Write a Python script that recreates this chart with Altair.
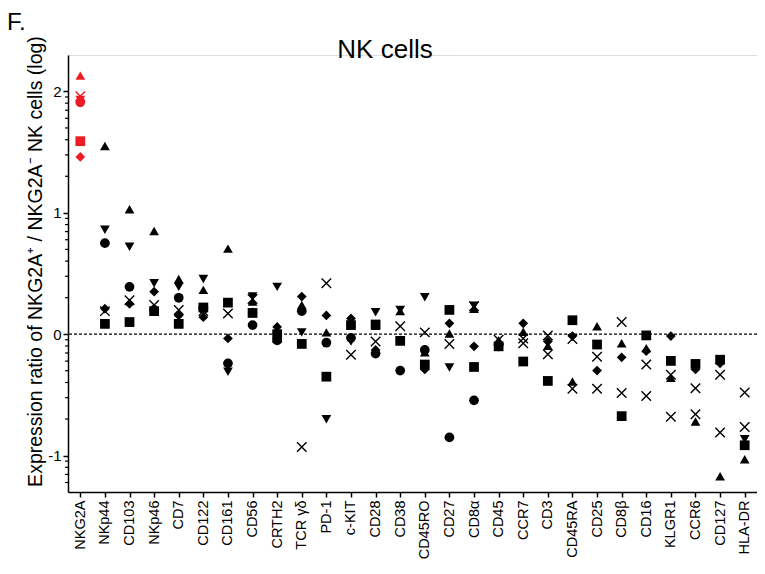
import math
import altair as alt
import pandas as pd

categories = ["NKG2A", "NKp44", "CD103", "NKp46", "CD7", "CD122", "CD161", "CD56",
              "CRTH2", "TCR γδ", "PD-1", "c-KIT", "CD28", "CD38", "CD45RO", "CD27",
              "CD8α", "CD45", "CCR7", "CD3", "CD45RA", "CD25", "CD8β", "CD16",
              "KLGR1", "CCR6", "CD127", "HLA-DR"]

circle = [1.91, 0.75, 0.39, 0.20, 0.30, 0.21, -0.24, 0.075, -0.05, 0.19, -0.07, -0.03,
          -0.16, -0.30, -0.13, -0.85, -0.545, -0.09] + [None] * 10
square = [1.59, 0.085, 0.10, 0.19, 0.085, 0.22, 0.26, 0.175, 0.0, -0.08, -0.35, 0.075,
          0.08, -0.055, -0.25, 0.20, -0.27, -0.10, -0.225, -0.385, 0.115, -0.085, -0.675,
          -0.01, -0.22, -0.245, -0.21, -0.915]
tri_up = [2.13, 1.55, 1.03, 0.85, 0.455, 0.365, 0.705, 0.27, -0.01, 0.24, 0.015, 0.10,
          0.07, 0.19, -0.15, 0.005, 0.21, -0.05, 0.02, -0.095, -0.39, 0.065, -0.075,
          -0.115, -0.36, -0.72, -1.17, -1.03]
tri_down = [1.93, 0.86, 0.72, 0.42, 0.39, 0.455, -0.31, 0.31, 0.39, 0.015, -0.70, -0.06,
            0.18, 0.20, 0.305, -0.275, 0.235, -0.11] + [None] * 9 + [-0.865]
diamond = [1.46, 0.21, 0.25, 0.35, 0.155, 0.14, -0.035, 0.18, 0.06, 0.31, 0.155, 0.13,
           -0.13, -0.05, -0.29, 0.09, -0.10, -0.07, 0.09, -0.06, -0.015, -0.30, -0.19,
           -0.14, -0.015, -0.29, -0.24, None]
cross_a = [1.96, 0.19, 0.28, 0.24, 0.20, 0.19, 0.17, 0.29, -0.03, -0.93, 0.42, -0.17,
           -0.06, 0.065, 0.015, -0.08, 0.23, -0.045, -0.075, -0.165, -0.04, -0.185, 0.10,
           -0.25, -0.335, -0.445, -0.335, -0.48]
cross_b = [None] * 18 + [-0.035, -0.01, -0.45, -0.45, -0.485, -0.51, -0.68, -0.66, -0.81, -0.765]

filled_series = [("circle", circle), ("square", square), ("triangle-up", tri_up),
                 ("triangle-down", tri_down), ("diamond", diamond)]
cross_series = [("cross_a", cross_a), ("cross_b", cross_b)]

def rows(series):
    out = []
    for name, vals in series:
        for c, v in zip(categories, vals):
            if v is not None:
                out.append({"marker": c, "series": name, "value": v})
    return pd.DataFrame(out)

df_filled = rows(filled_series)
df_cross = rows(cross_series)

minor = []
for d in range(-2, 3):
    for k in range(2, 10):
        v = d + math.log10(k)
        if -1.3 <= v <= 2.3:
            minor.append(v)
df_minor = pd.DataFrame({"v": minor})

FONT = "Liberation Sans"
RED = "#ED1C24"
W, H = 689, 437

x_enc = alt.X("marker:N", sort=categories,
              scale=alt.Scale(type="point", padding=0.5),
              axis=alt.Axis(labelAngle=-90, labelFontSize=14.5, labelFont=FONT,
                            labelColor="black", tickSize=5, tickWidth=1.5,
                            tickColor="black", domainColor="black", domainWidth=1.5,
                            labelPadding=3, title=None))
y_scale = alt.Scale(domain=[-1.3, 2.3], nice=False, zero=False)
y_enc = alt.Y("value:Q", scale=y_scale,
              axis=alt.Axis(values=[-1, 0, 1, 2], labelExpr="'' + datum.value",
                            labelFontSize=15, labelFont=FONT, labelColor="black",
                            tickSize=5, tickWidth=1.5, tickColor="black",
                            domainColor="black", domainWidth=1.5, grid=False,
                            labelPadding=2,
                            title="Expression ratio of NKG2A⁺ / NKG2A⁻ NK cells (log)",
                            titleFont=FONT, titleFontSize=19.5, titleFontWeight="normal",
                            titleColor="black", titlePadding=2, titleY=206))

color_cond = alt.condition(alt.datum.marker == "NKG2A", alt.value(RED), alt.value("black"))

pts = alt.Chart(df_filled).mark_point(filled=True, opacity=1, size=95).encode(
    x=x_enc, y=y_enc,
    shape=alt.Shape("series:N",
                    scale=alt.Scale(domain=[s for s, _ in filled_series],
                                    range=["circle", "square", "triangle-up",
                                           "triangle-down", "diamond"]),
                    legend=None),
    color=color_cond,
)

crosses = alt.Chart(df_cross).mark_point(
    filled=False, opacity=1, size=90, strokeWidth=1.4,
    shape="M-1,-1L1,1M-1,1L1,-1").encode(
    x=alt.X("marker:N", sort=categories), y=alt.Y("value:Q"),
    color=color_cond,
)

zero = alt.Chart(pd.DataFrame({"value": [0]})).mark_rule(
    strokeDash=[3, 2], strokeWidth=1.3, color="black").encode(y="value:Q")

minor_ticks = alt.Chart(df_minor).mark_rule(strokeWidth=1.2, color="black").encode(
    y=alt.Y("v:Q"), x=alt.value(-3), x2=alt.value(0))

title = alt.Chart(pd.DataFrame({"t": ["NK cells"]})).mark_text(
    font=FONT, fontSize=26, color="black", align="center", baseline="alphabetic").encode(
    text="t:N", x=alt.value(317), y=alt.value(3))

panel = alt.Chart(pd.DataFrame({"t": ["F."]})).mark_text(
    font=FONT, fontSize=24, color="black", align="left", baseline="alphabetic").encode(
    text="t:N", x=alt.value(-61), y=alt.value(-25))

chart = alt.layer(zero, minor_ticks, pts, crosses, title, panel).properties(
    width=W, height=H,
    padding={"left": 60, "top": 47, "right": 0, "bottom": 82},
    autosize=alt.AutoSizeParams(type="none"),
).configure_view(stroke=None).configure(background="white")

chart.save("out.html", embed_options={"renderer": "svg", "actions": False})
